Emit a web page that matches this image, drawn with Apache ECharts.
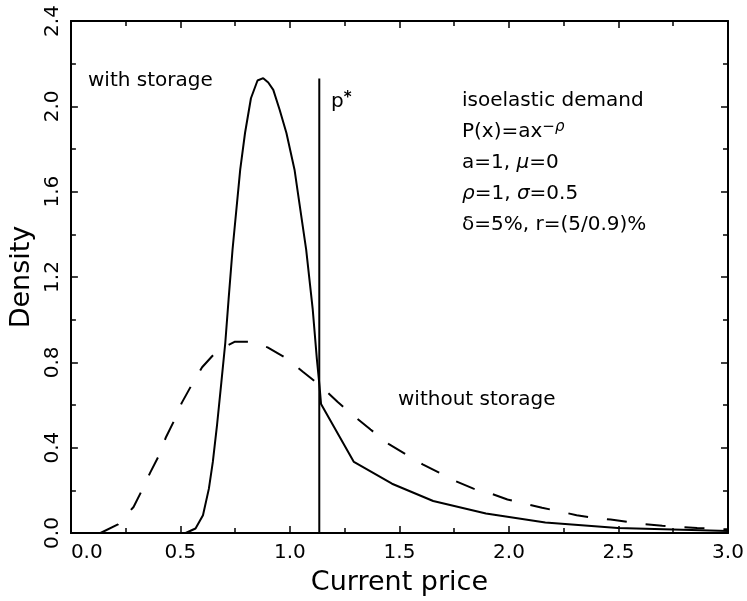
<!DOCTYPE html>
<html>
<head>
<meta charset="utf-8">
<script src="https://cdn.jsdelivr.net/npm/echarts@6/dist/echarts.min.js"></script>
<style>
html,body{margin:0;padding:0;background:#fff;}
#chart{width:747px;height:601px;}
</style>
</head>
<body>
<div id="chart"></div>
<script>
// ---- data ----
const withStorageX = [0.524, 0.569, 0.603, 0.630, 0.648, 0.667, 0.687, 0.705, 0.720, 0.738, 0.773, 0.795, 0.822, 0.852, 0.878, 0.901, 0.924, 0.953, 0.984, 1.021, 1.036, 1.074, 1.104, 1.123, 1.135, 1.142, 1.292, 1.466, 1.654, 1.895, 2.166, 2.497, 3.0];
const withStorageY = [0.0, 0.021, 0.083, 0.208, 0.333, 0.504, 0.707, 0.893, 1.096, 1.329, 1.703, 1.875, 2.038, 2.121, 2.132, 2.112, 2.077, 1.984, 1.875, 1.703, 1.597, 1.329, 1.049, 0.815, 0.69, 0.605, 0.333, 0.231, 0.150, 0.091, 0.049, 0.024, 0.009];

const withoutStorageX = [0.135, 0.215, 0.286, 0.328, 0.362, 0.404, 0.434, 0.474, 0.506, 0.554, 0.599, 0.667, 0.747, 0.822, 0.898, 0.984, 1.059, 1.139, 1.217, 1.292, 1.368, 1.450, 1.526, 1.606, 1.681, 1.759, 1.838, 1.917, 1.993, 2.073, 2.151, 2.229, 2.309, 2.389, 2.464, 2.543, 2.621, 2.700, 2.776, 2.859, 2.940, 3.0];
const withoutStorageY = [0.0, 0.04, 0.122, 0.208, 0.283, 0.367, 0.449, 0.532, 0.610, 0.699, 0.777, 0.854, 0.896, 0.896, 0.870, 0.819, 0.756, 0.691, 0.615, 0.548, 0.485, 0.418, 0.371, 0.322, 0.283, 0.242, 0.208, 0.185, 0.157, 0.138, 0.118, 0.102, 0.083, 0.071, 0.063, 0.052, 0.041, 0.034, 0.029, 0.024, 0.020, 0.017];

const pStarX = [1.134, 1.134];
const pStarY = [0.0, 2.13];

const xTickLabels = ['0.0', '0.5', '1.0', '1.5', '2.0', '2.5', '3.0'];
const yTickLabels = ['0.0', '0.4', '0.8', '1.2', '1.6', '2.0', '2.4'];

// ---- chart ----
const FONT = 'DejaVu Sans';
const FS = 20;
const zip = (xs, ys) => xs.map((x, i) => [x, ys[i]]);
const chart = echarts.init(document.getElementById('chart'), null, {renderer: 'canvas'});

const axisLine = {show: true, onZero: false, lineStyle: {color: '#000', width: 2}};
const tick = {show: true, inside: true, length: 7, lineStyle: {color: '#000', width: 1.5}};
const minor = {show: true, splitNumber: 2, length: 5, lineStyle: {color: '#000', width: 1.5}};

const option = {
  animation: false,
  backgroundColor: '#fff',
  grid: {left: 64, right: 19, top: 21, bottom: 66, containLabel: false},
  xAxis: [
    {
      type: 'value', min: 0, max: 3, interval: 0.5, position: 'bottom',
      axisLine: axisLine, axisTick: tick, minorTick: minor, splitLine: {show: false},
      axisLabel: {
        color: '#000', fontSize: FS, fontFamily: FONT, margin: 10,
        alignMinLabel: 'left',
        formatter: v => xTickLabels[Math.round(v / 0.5)]
      },
      name: 'Current price', nameLocation: 'middle', nameGap: 36,
      nameTextStyle: {color: '#000', fontSize: 27, fontFamily: FONT}
    },
    {
      type: 'value', min: 0, max: 3, interval: 0.5, position: 'top',
      axisLine: axisLine, axisTick: tick, minorTick: minor, splitLine: {show: false},
      axisLabel: {show: false}
    }
  ],
  yAxis: [
    {
      type: 'value', min: 0, max: 2.4, interval: 0.4, position: 'left',
      axisLine: axisLine, axisTick: tick, minorTick: minor, splitLine: {show: false},
      axisLabel: {
        color: '#000', fontSize: FS, fontFamily: FONT, margin: 8, rotate: 90,
        formatter: v => yTickLabels[Math.round(v / 0.4)]
      },
      name: 'Density', nameLocation: 'middle', nameGap: 33, nameRotate: 90,
      nameTextStyle: {color: '#000', fontSize: 27, fontFamily: FONT}
    },
    {
      type: 'value', min: 0, max: 2.4, interval: 0.4, position: 'right',
      axisLine: axisLine, axisTick: tick, minorTick: minor, splitLine: {show: false},
      axisLabel: {show: false}
    }
  ],
  series: [
    {
      name: 'with storage', type: 'line', xAxisIndex: 0, yAxisIndex: 0,
      data: zip(withStorageX, withStorageY), showSymbol: false, symbol: 'none',
      lineStyle: {color: '#000', width: 2}, z: 3
    },
    {
      name: 'without storage', type: 'line', xAxisIndex: 0, yAxisIndex: 0,
      data: zip(withoutStorageX, withoutStorageY), showSymbol: false, symbol: 'none',
      lineStyle: {color: '#000', width: 2, type: [20, 19]}, z: 3
    },
    {
      name: 'p*', type: 'line', xAxisIndex: 0, yAxisIndex: 0,
      data: zip(pStarX, pStarY), showSymbol: false, symbol: 'none',
      lineStyle: {color: '#000', width: 2}, z: 3
    }
  ],
  graphic: [
    {type: 'text', x: 88, y: 81, style: {text: 'with storage', fontSize: FS, fontFamily: FONT, fill: '#000', verticalAlign: 'middle'}},
    {type: 'text', x: 398, y: 400, style: {text: 'without storage', fontSize: FS, fontFamily: FONT, fill: '#000', verticalAlign: 'middle'}},
    {type: 'text', x: 331, y: 102, style: {
      text: '{m|p}{s|*}', verticalAlign: 'middle', fill: '#000',
      rich: {m: {fontSize: FS, fontFamily: FONT, lineHeight: 22}, s: {fontSize: 15, fontFamily: FONT, fontWeight: 'bold', verticalAlign: 'top', lineHeight: 22}}
    }},
    {type: 'text', x: 462, y: 101, style: {text: 'isoelastic demand', fontSize: FS, fontFamily: FONT, fill: '#000', verticalAlign: 'middle'}},
    {type: 'text', x: 462, y: 132, style: {
      text: '{m|P(x)=ax}{s|−}{si|ρ}', verticalAlign: 'middle', fill: '#000',
      rich: {
        m: {fontSize: FS, fontFamily: FONT, lineHeight: 24},
        s: {fontSize: 15, fontFamily: FONT, verticalAlign: 'top', lineHeight: 24},
        si: {fontSize: 15, fontFamily: FONT, fontStyle: 'italic', verticalAlign: 'top', lineHeight: 24}
      }
    }},
    {type: 'text', x: 462, y: 163, style: {
      text: '{m|a=1, }{g|μ}{m|=0}', verticalAlign: 'middle', fill: '#000',
      rich: {m: {fontSize: FS, fontFamily: FONT}, g: {fontSize: FS, fontFamily: FONT, fontStyle: 'italic'}}
    }},
    {type: 'text', x: 462, y: 194, style: {
      text: '{g|ρ}{m|=1, }{g|σ}{m|=0.5}', verticalAlign: 'middle', fill: '#000',
      rich: {m: {fontSize: FS, fontFamily: FONT}, g: {fontSize: FS, fontFamily: FONT, fontStyle: 'italic'}}
    }},
    {type: 'text', x: 462, y: 225, style: {text: 'δ=5%, r=(5/0.9)%', fontSize: FS, fontFamily: FONT, fill: '#000', verticalAlign: 'middle'}}
  ]
};
chart.setOption(option);
</script>
</body>
</html>
